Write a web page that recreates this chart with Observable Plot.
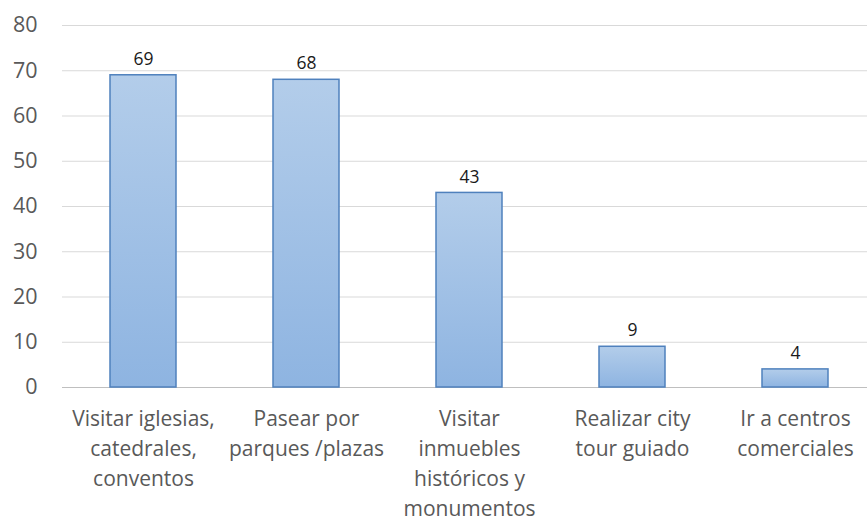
<!DOCTYPE html>
<html><head><meta charset="utf-8">
<script src="https://cdn.jsdelivr.net/npm/d3@7"></script>
<script src="https://cdn.jsdelivr.net/npm/@observablehq/plot@0.6"></script>
<style>body{margin:0;background:#fff;}</style>
</head><body><div id="chart"></div>
<script>
const categories = ["Visitar iglesias,\ncatedrales,\nconventos", "Pasear por\nparques /plazas", "Visitar\ninmuebles\nhistóricos y\nmonumentos", "Realizar city\ntour guiado", "Ir a centros\ncomerciales"];
const values = [69, 68, 43, 9, 4];
const yTicks = [0, 10, 20, 30, 40, 50, 60, 70, 80];
const data = categories.map((c, i) => ({cat: c, val: values[i]}));

const chart = Plot.plot({
  width: 867, height: 523,
  marginTop: 25, marginBottom: 136, marginLeft: 62, marginRight: -10,
  style: {fontFamily: "'Open Sans', sans-serif", background: "#fff", overflow: "hidden"},
  x: {domain: categories, paddingInner: 0.595, paddingOuter: 0.2975, label: null},
  y: {domain: [0, 80], label: null},
  marks: [
    Plot.ruleY(yTicks.filter(d => d > 0), {stroke: "#d9d9d9"}),
    Plot.ruleY([0], {stroke: "#bfbfbf"}),
    Plot.barY(data, {x: "cat", y: "val", fill: "url(#barGrad)", stroke: "#4f81bd", strokeWidth: 1.5}),
    Plot.text(data, {x: "cat", y: "val", text: d => String(d.val), dy: -16, fontSize: 17.5, fill: "#1a1a1a"}),
    Plot.axisY(yTicks, {tickSize: 0, tickPadding: 25, fontSize: 21.5, color: "#595959", label: null}),
    Plot.axisX({tickSize: 0, tickPadding: 17, fontSize: 21, color: "#595959", lineHeight: 1.43, label: null, lineAnchor: "top"})
  ]
});
const defs = document.createElementNS("http://www.w3.org/2000/svg", "defs");
defs.innerHTML = `<linearGradient id="barGrad" x1="0" y1="0" x2="0" y2="1"><stop offset="0" stop-color="#b3cdea"/><stop offset="1" stop-color="#8eb4e1"/></linearGradient>`;
chart.insertBefore(defs, chart.firstChild);
document.getElementById("chart").appendChild(chart);
</script></body></html>
